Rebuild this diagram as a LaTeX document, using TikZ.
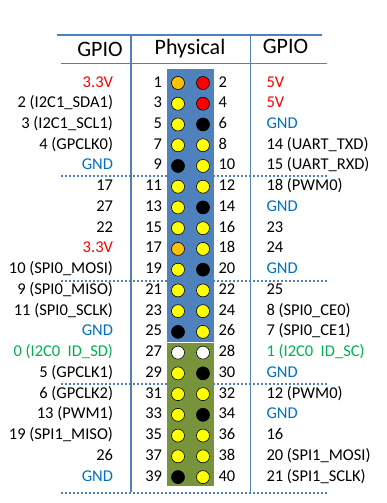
\documentclass[tikz,border=0pt]{standalone}
\usepackage{fontspec}
\setmainfont{Carlito}
\usepackage{tikz}
\usetikzlibrary{positioning,backgrounds}
\definecolor{rulecol}{RGB}{79,129,189}
\definecolor{boardblue}{RGB}{79,129,189}
\definecolor{boardgreen}{RGB}{119,147,60}
\definecolor{gndcol}{RGB}{0,112,192}
\definecolor{idcol}{RGB}{0,176,80}
\definecolor{pinyel}{RGB}{255,255,0}
\definecolor{pinorg}{RGB}{255,192,0}
\definecolor{pinred}{RGB}{255,0,0}
\tikzset{HDR style/.style={x=1pt,y=-1pt,node distance=20.74pt,
  every node/.append style={inner sep=0}},
  pin/.style={circle,draw=black,line width=0.6pt,minimum size=13pt,inner sep=0},
  yl/.style={pin,fill=pinyel}, og/.style={pin,fill=pinorg},
  rd/.style={pin,fill=pinred}, bk/.style={pin,fill=black},
  wt/.style={pin,fill=white},
  txt/.style={font=\fontsize{16.5}{16.5}\selectfont,text height=11pt,text depth=3pt},
  num/.style={txt},
  lbl/.style={txt},
  hdr/.style={font=\fontsize{22}{22}\selectfont,anchor=base},
  rule/.style={rulecol,line width=1.8pt},
  sep/.style={rulecol,line width=2pt,dash pattern=on 2pt off 2pt}}
\newcommand{\gnd}{\textcolor{gndcol}{GND}}

\begin{document}
\begin{tikzpicture}[HDR style]
	\useasboundingbox (0,0) rectangle (386,503);
	
	% table rules
	\draw[sep] (61,175.5) -- (327,175.5);
	\draw[sep] (61,280.5) -- (327,280.5);
	\draw[sep] (61,384) -- (327,384);
	\draw[sep] (61,492.5) -- (327,492.5);
	\draw[rule] (57,35) -- (322,35);
	\draw[rule] (61,63.5) -- (327,63.5);
	\draw[rule] (131,35) -- (131,492);
	\draw[rule] (250.5,35) -- (250.5,492);
	
	% header board
	\fill[boardblue] (167,69) rectangle (214,341.5);
	\fill[boardgreen] (167,343) rectangle (214,486);
	
	\node[hdr] (hleft) at (100,56.5) {GPIO};
	\node[hdr] (hphys) at (190,54.5) {Physical};
	\node[hdr] (hright) at (285.5,53.7) {GPIO};
	
	\node[og] (p1) at (178,83) {};
	\node[rd] [right of=p1, xshift=4.26pt] (p2) {};
	\node[yl] [below of=p1] (p3) {};
	\node[rd] [below of=p2] (p4) {};
	\node[yl] [below of=p3] (p5) {};
	\node[bk] [below of=p4] (p6) {};
	\node[yl] [below of=p5] (p7) {};
	\node[yl] [below of=p6] (p8) {};
	\node[bk] [below of=p7] (p9) {};
	\node[yl] [below of=p8] (p10) {};
	\node[yl] [below of=p9] (p11) {};
	\node[yl] [below of=p10] (p12) {};
	\node[yl] [below of=p11] (p13) {};
	\node[bk] [below of=p12] (p14) {};
	\node[yl] [below of=p13] (p15) {};
	\node[yl] [below of=p14] (p16) {};
	\node[og] [below of=p15] (p17) {};
	\node[yl] [below of=p16] (p18) {};
	\node[yl] [below of=p17] (p19) {};
	\node[bk] [below of=p18] (p20) {};
	\node[yl] [below of=p19] (p21) {};
	\node[yl] [below of=p20] (p22) {};
	\node[yl] [below of=p21] (p23) {};
	\node[yl] [below of=p22] (p24) {};
	\node[bk] [below of=p23] (p25) {};
	\node[yl] [below of=p24] (p26) {};
	\node[wt] [below of=p25] (p27) {};
	\node[wt] [below of=p26] (p28) {};
	\node[yl] [below of=p27] (p29) {};
	\node[bk] [below of=p28] (p30) {};
	\node[yl] [below of=p29] (p31) {};
	\node[yl] [below of=p30] (p32) {};
	\node[yl] [below of=p31] (p33) {};
	\node[bk] [below of=p32] (p34) {};
	\node[yl] [below of=p33] (p35) {};
	\node[yl] [below of=p34] (p36) {};
	\node[yl] [below of=p35] (p37) {};
	\node[yl] [below of=p36] (p38) {};
	\node[bk] [below of=p37] (p39) {};
	\node[yl] [below of=p38] (p40) {};
	
	% physical numbers
	\node[num] [left=9pt of p1] (n1) {1};
	\node[num] [right=8.5pt of p2] (n2) {2};
	\node[num] [left=9pt of p3] (n3) {3};
	\node[num] [right=8.5pt of p4] (n4) {4};
	\node[num] [left=9pt of p5] (n5) {5};
	\node[num] [right=8.5pt of p6] (n6) {6};
	\node[num] [left=9pt of p7] (n7) {7};
	\node[num] [right=8.5pt of p8] (n8) {8};
	\node[num] [left=9pt of p9] (n9) {9};
	\node[num] [right=8.5pt of p10] (n10) {10};
	\node[num] [left=9pt of p11] (n11) {11};
	\node[num] [right=8.5pt of p12] (n12) {12};
	\node[num] [left=9pt of p13] (n13) {13};
	\node[num] [right=8.5pt of p14] (n14) {14};
	\node[num] [left=9pt of p15] (n15) {15};
	\node[num] [right=8.5pt of p16] (n16) {16};
	\node[num] [left=9pt of p17] (n17) {17};
	\node[num] [right=8.5pt of p18] (n18) {18};
	\node[num] [left=9pt of p19] (n19) {19};
	\node[num] [right=8.5pt of p20] (n20) {20};
	\node[num] [left=9pt of p21] (n21) {21};
	\node[num] [right=8.5pt of p22] (n22) {22};
	\node[num] [left=9pt of p23] (n23) {23};
	\node[num] [right=8.5pt of p24] (n24) {24};
	\node[num] [left=9pt of p25] (n25) {25};
	\node[num] [right=8.5pt of p26] (n26) {26};
	\node[num] [left=9pt of p27] (n27) {27};
	\node[num] [right=8.5pt of p28] (n28) {28};
	\node[num] [left=9pt of p29] (n29) {29};
	\node[num] [right=8.5pt of p30] (n30) {30};
	\node[num] [left=9pt of p31] (n31) {31};
	\node[num] [right=8.5pt of p32] (n32) {32};
	\node[num] [left=9pt of p33] (n33) {33};
	\node[num] [right=8.5pt of p34] (n34) {34};
	\node[num] [left=9pt of p35] (n35) {35};
	\node[num] [right=8.5pt of p36] (n36) {36};
	\node[num] [left=9pt of p37] (n37) {37};
	\node[num] [right=8.5pt of p38] (n38) {38};
	\node[num] [left=9pt of p39] (n39) {39};
	\node[num] [right=8.5pt of p40] (n40) {40};
	
	% GPIO names
	\node[lbl,red] [left=58pt of p1] (g1) {3.3V};
	\node[lbl,red] [right=56.5pt of p2] (g2) {5V};
	\node[lbl] [left=58pt of p3] (g3) {2 (I2C1\_SDA1)};
	\node[lbl,red] [right=56.5pt of p4] (g4) {5V};
	\node[lbl] [left=58pt of p5] (g5) {3 (I2C1\_SCL1)};
	\node[lbl] [right=56.5pt of p6] (g6) {\gnd};
	\node[lbl] [left=58pt of p7] (g7) {4 (GPCLK0)};
	\node[lbl] [right=56.5pt of p8] (g8) {14 (UART\_TXD)};
	\node[lbl] [left=58pt of p9] (g9) {\gnd};
	\node[lbl] [right=56.5pt of p10] (g10) {15 (UART\_RXD)};
	\node[lbl] [left=58pt of p11] (g11) {17};
	\node[lbl] [right=56.5pt of p12] (g12) {18 (PWM0)};
	\node[lbl] [left=58pt of p13] (g13) {27};
	\node[lbl] [right=56.5pt of p14] (g14) {\gnd};
	\node[lbl] [left=58pt of p15] (g15) {22};
	\node[lbl] [right=56.5pt of p16] (g16) {23};
	\node[lbl,red] [left=58pt of p17] (g17) {3.3V};
	\node[lbl] [right=56.5pt of p18] (g18) {24};
	\node[lbl] [left=58pt of p19] (g19) {10 (SPI0\_MOSI)};
	\node[lbl] [right=56.5pt of p20] (g20) {\gnd};
	\node[lbl] [left=58pt of p21] (g21) {9 (SPI0\_MISO)};
	\node[lbl] [right=56.5pt of p22] (g22) {25};
	\node[lbl] [left=58pt of p23] (g23) {11 (SPI0\_SCLK)};
	\node[lbl] [right=56.5pt of p24] (g24) {8 (SPI0\_CE0)};
	\node[lbl] [left=58pt of p25] (g25) {\gnd};
	\node[lbl] [right=56.5pt of p26] (g26) {7 (SPI0\_CE1)};
	\node[lbl,idcol] [left=58pt of p27] (g27) {0 (I2C0\ \ ID\_SD)};
	\node[lbl,idcol] [right=56.5pt of p28] (g28) {1 (I2C0\ \ ID\_SC)};
	\node[lbl] [left=58pt of p29] (g29) {5 (GPCLK1)};
	\node[lbl] [right=56.5pt of p30] (g30) {\gnd};
	\node[lbl] [left=58pt of p31] (g31) {6 (GPCLK2)};
	\node[lbl] [right=56.5pt of p32] (g32) {12 (PWM0)};
	\node[lbl] [left=58pt of p33] (g33) {13 (PWM1)};
	\node[lbl] [right=56.5pt of p34] (g34) {\gnd};
	\node[lbl] [left=58pt of p35] (g35) {19 (SPI1\_MISO)};
	\node[lbl] [right=56.5pt of p36] (g36) {16};
	\node[lbl] [left=58pt of p37] (g37) {26};
	\node[lbl] [right=56.5pt of p38] (g38) {20 (SPI1\_MOSI)};
	\node[lbl] [left=58pt of p39] (g39) {\gnd};
	\node[lbl] [right=56.5pt of p40] (g40) {21 (SPI1\_SCLK)};
\end{tikzpicture}
\end{document}
